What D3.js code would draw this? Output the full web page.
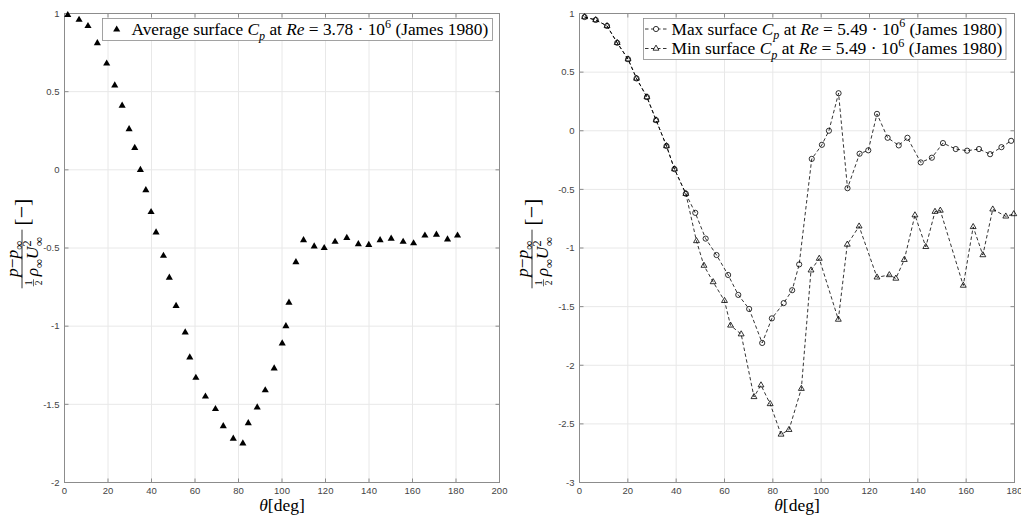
<!DOCTYPE html>
<html>
<head>
<meta charset="utf-8">
<script src="https://cdn.jsdelivr.net/npm/d3@7"></script>
<style>
body { margin: 0; background: #fff; }
svg { display: block; }
</style>
</head>
<body>
<svg id="chart" width="1021" height="516"></svg>
<script>
// surface pressure coefficient, James (1980)
var avgTheta = [1.5, 6.7, 10.8, 15.1, 19.4, 23.1, 26.5, 29.7, 32.3, 34.9, 37.4, 39.8, 42.1, 45.5,
    48.2, 51.3, 55.5, 57.6, 60.4, 64.8, 69.4, 73, 77.6, 82, 84.5, 88.6, 92.3, 96.4, 100.1, 101.8,
    103.2, 106.4, 109.9, 114.8, 119.4, 124.4, 129.8, 135.1, 139.9, 145.1, 150.2, 155.7, 160.5,
    165.7, 171, 176.1, 180.7];
var avgCp = [0.99, 0.96, 0.92, 0.81, 0.68, 0.54, 0.41, 0.26, 0.14, 0.0, -0.13, -0.27, -0.40, -0.55,
    -0.69, -0.87, -1.04, -1.20, -1.33, -1.45, -1.53, -1.64, -1.72, -1.75, -1.62, -1.52, -1.41, -1.27,
    -1.11, -1.00, -0.85, -0.59, -0.45, -0.49, -0.50, -0.46, -0.435, -0.475, -0.48, -0.45, -0.44,
    -0.46, -0.47, -0.42, -0.415, -0.445, -0.42];

var maxTheta = [2.1, 6.7, 11.4, 15.6, 20.1, 23.6, 27.9, 31.7, 36.0, 39.3, 44.0, 47.9, 52.2, 56.7,
    61.5, 65.7, 70.2, 75.6, 79.6, 84.5, 88, 90.9, 96.1, 100.3, 103.2, 107.2, 110.9, 115.9, 119.5,
    123.1, 127.5, 132.1, 135.7, 141.2, 145.8, 150.4, 155.7, 160.4, 165.3, 169.9, 174.6, 178.6];
var maxCp = [0.97, 0.945, 0.894, 0.75, 0.61, 0.446, 0.287, 0.09, -0.13, -0.327, -0.537, -0.70,
    -0.92, -1.06, -1.23, -1.40, -1.52, -1.81, -1.60, -1.47, -1.36, -1.14, -0.24, -0.12, 0.0, 0.32,
    -0.49, -0.196, -0.167, 0.144, -0.06, -0.125, -0.06, -0.27, -0.23, -0.105, -0.156, -0.17,
    -0.156, -0.20, -0.14, -0.086];

var minTheta = [2.1, 6.7, 11.4, 15.6, 20.1, 23.6, 27.9, 31.7, 36.0, 39.3, 44.0, 48.4, 51.5, 55.3,
    60, 62.5, 66.9, 72.2, 75.1, 78.9, 83.4, 86.7, 91.8, 95.8, 99.2, 107.1, 110.8, 115.7, 123.1,
    128.2, 130.9, 134.4, 138.8, 143.3, 147.1, 149.3, 158.8, 162.9, 166.9, 171, 176.4, 179.7];
var minCp = [0.97, 0.945, 0.894, 0.75, 0.61, 0.446, 0.287, 0.09, -0.13, -0.327, -0.537, -0.94,
    -1.15, -1.29, -1.45, -1.66, -1.735, -2.27, -2.17, -2.33, -2.59, -2.55, -2.20, -1.19, -1.09,
    -1.61, -0.97, -0.815, -1.25, -1.23, -1.26, -1.10, -0.72, -0.99, -0.69, -0.68, -1.32, -0.82,
    -1.06, -0.67, -0.73, -0.71];

var leftXTicks = [0, 20, 40, 60, 80, 100, 120, 140, 160, 180, 200];
var leftYTicks = [1, 0.5, 0, -0.5, -1, -1.5, -2];
var rightXTicks = [0, 20, 40, 60, 80, 100, 120, 140, 160, 180];
var rightYTicks = [1, 0.5, 0, -0.5, -1, -1.5, -2, -2.5, -3];

var serif = "'Liberation Serif', 'DejaVu Serif', serif";
var sans = "'Liberation Sans', Arial, sans-serif";

var svg = d3.select("#chart");

var xL = d3.scaleLinear().domain([0, 200]).range([64.5, 499.5]);
var yL = d3.scaleLinear().domain([-2, 1]).range([482.5, 13.5]);
var xR = d3.scaleLinear().domain([0, 180]).range([579.5, 1014.5]);
var yR = d3.scaleLinear().domain([-3, 1]).range([482.5, 13.5]);

function drawAxes(x, y, xTicks, yTicks) {
    var g = svg.append("g");
    var x0 = x.range()[0], x1 = x.range()[1];
    var y0 = y.range()[0], y1 = y.range()[1];
    // grid
    xTicks.forEach(function (t) {
        g.append("line").attr("x1", x(t)).attr("x2", x(t)).attr("y1", y0).attr("y2", y1)
            .style("stroke", "#e8e8e8").style("stroke-width", 1);
    });
    yTicks.forEach(function (t) {
        g.append("line").attr("x1", x0).attr("x2", x1).attr("y1", y(t)).attr("y2", y(t))
            .style("stroke", "#e8e8e8").style("stroke-width", 1);
    });
    // box
    g.append("rect").attr("x", x0).attr("y", y1).attr("width", x1 - x0).attr("height", y0 - y1)
        .style("fill", "none").style("stroke", "#8c8c8c").style("stroke-width", 1);
    // inward ticks all round
    xTicks.forEach(function (t) {
        g.append("line").attr("x1", x(t)).attr("x2", x(t)).attr("y1", y0).attr("y2", y0 - 4)
            .style("stroke", "#8c8c8c");
        g.append("line").attr("x1", x(t)).attr("x2", x(t)).attr("y1", y1).attr("y2", y1 + 4)
            .style("stroke", "#8c8c8c");
        g.append("text").attr("x", x(t)).attr("y", y0 + 11)
            .attr("text-anchor", "middle").attr("font-family", sans).attr("font-size", 9.5)
            .attr("fill", "#444").text(t);
    });
    yTicks.forEach(function (t) {
        g.append("line").attr("x1", x0).attr("x2", x0 + 4).attr("y1", y(t)).attr("y2", y(t))
            .style("stroke", "#8c8c8c");
        g.append("line").attr("x1", x1).attr("x2", x1 - 4).attr("y1", y(t)).attr("y2", y(t))
            .style("stroke", "#8c8c8c");
        g.append("text").attr("x", x0 - 5).attr("y", y(t)).attr("dy", "0.35em")
            .attr("text-anchor", "end").attr("font-family", sans).attr("font-size", 9.5)
            .attr("fill", "#444").text(t);
    });
}

// text with italic / sub / sup pieces
function rich(parent, parts, size) {
    var t = parent.append("text").attr("font-family", serif).attr("font-size", size).attr("fill", "#000");
    var shift = 0;
    parts.forEach(function (p) {
        var target = p.sub ? size * 0.28 : (p.sup ? -size * 0.42 : 0);
        var ts = t.append("tspan").attr("dy", target - shift).text(p.t);
        if (p.i) ts.attr("font-style", "italic");
        if (p.sub || p.sup) ts.attr("font-size", size * 0.7);
        if (p.dx) ts.attr("dx", p.dx);
        shift = target;
    });
    return t;
}

function fitRich(parent, parts, width, size) {
    var t = rich(parent, parts, size);
    var w = t.node().getComputedTextLength();
    t.remove();
    return rich(parent, parts, size * width / w);
}

function xLabel(cx) {
    var t = rich(svg, [{t: "θ", i: 1}, {t: "[deg]"}], 17.5);
    t.attr("x", cx).attr("y", 510.5).attr("text-anchor", "middle");
}

function yLabel(cx, cy) {
    var g = svg.append("g").attr("transform", "translate(" + cx + "," + cy + ") rotate(-90)");
    var c = -11;
    rich(g, [{t: "p", i: 1}, {t: "−"}, {t: "p", i: 1}, {t: "∞", sub: 1}], 17.5)
        .attr("x", c).attr("y", -4).attr("text-anchor", "middle");
    var den = rich(g, [{t: "ρ", i: 1}, {t: "∞", sub: 1}, {t: "U", i: 1}, {t: "2", sup: 1},
        {t: "∞", sub: 1, dx: -5.5}], 17.5);
    var w = den.node().getComputedTextLength();
    var W = w + 10;
    var s = c - W / 2;
    den.attr("x", s + 10).attr("y", 16);
    g.append("text").attr("x", s + 3.5).attr("y", 10).attr("text-anchor", "middle")
        .attr("font-family", serif).attr("font-size", 9.5).text("1");
    g.append("text").attr("x", s + 3.5).attr("y", 19.5).attr("text-anchor", "middle")
        .attr("font-family", serif).attr("font-size", 9.5).text("2");
    g.append("line").attr("x1", s).attr("x2", s + 7).attr("y1", 11.5).attr("y2", 11.5)
        .style("stroke", "#000").style("stroke-width", 0.6);
    g.append("line").attr("x1", s - 2).attr("x2", s + W + 2).attr("y1", 0).attr("y2", 0)
        .style("stroke", "#000").style("stroke-width", 0.8);
    g.append("text").attr("x", s + W + 6).attr("y", 6.5).attr("font-family", serif).attr("font-size", 22)
        .text("[−]");
}

var triBig = d3.symbol().type(d3.symbolTriangle).size(22);
var triSmall = d3.symbol().type(d3.symbolTriangle).size(15);

// ---- left panel
drawAxes(xL, yL, leftXTicks, leftYTicks);
svg.append("g").selectAll("path").data(avgTheta).enter().append("path")
    .attr("d", triBig)
    .attr("transform", function (d, i) { return "translate(" + xL(d) + "," + yL(avgCp[i]) + ")"; })
    .style("fill", "#000");

svg.append("rect").attr("x", 102.5).attr("y", 18.5).attr("width", 390).attr("height", 22)
    .style("fill", "#fff").style("stroke", "#8c8c8c").style("stroke-width", 0.8);
svg.append("path").attr("d", triBig).attr("transform", "translate(116.7,29.5)").style("fill", "#000");
fitRich(svg, [{t: "Average surface "}, {t: "C", i: 1}, {t: "p", i: 1, sub: 1}, {t: " at "},
    {t: "Re", i: 1}, {t: " = 3.78 · 10"}, {t: "6", sup: 1}, {t: " (James 1980)"}], 357, 17)
    .attr("x", 131.5).attr("y", 35);

xLabel(282);
yLabel(22, 248);

// ---- right panel
drawAxes(xR, yR, rightXTicks, rightYTicks);

var lineMax = d3.line().x(function (d, i) { return xR(d); }).y(function (d, i) { return yR(maxCp[i]); });
var lineMin = d3.line().x(function (d, i) { return xR(d); }).y(function (d, i) { return yR(minCp[i]); });

svg.append("path").attr("d", lineMax(maxTheta))
    .style("fill", "none").style("stroke", "#000").style("stroke-width", 0.8)
    .style("stroke-dasharray", "3.5,2.5");
svg.append("path").attr("d", lineMin(minTheta))
    .style("fill", "none").style("stroke", "#000").style("stroke-width", 0.8)
    .style("stroke-dasharray", "3.5,2.5");

svg.append("g").selectAll("circle").data(maxTheta).enter().append("circle")
    .attr("cx", function (d) { return xR(d); })
    .attr("cy", function (d, i) { return yR(maxCp[i]); })
    .attr("r", 2.6)
    .style("fill", "none").style("stroke", "#000").style("stroke-width", 0.8);
svg.append("g").selectAll("path").data(minTheta).enter().append("path")
    .attr("d", triSmall)
    .attr("transform", function (d, i) { return "translate(" + xR(d) + "," + yR(minCp[i]) + ")"; })
    .style("fill", "none").style("stroke", "#000").style("stroke-width", 0.8);

svg.append("rect").attr("x", 643.5).attr("y", 18.5).attr("width", 362.5).attr("height", 41)
    .style("fill", "#fff").style("stroke", "#8c8c8c").style("stroke-width", 0.8);
[29, 48.5].forEach(function (ly, k) {
    svg.append("line").attr("x1", 645).attr("x2", 667).attr("y1", ly).attr("y2", ly)
        .style("stroke", "#000").style("stroke-width", 0.8).style("stroke-dasharray", "3.5,2.5");
    if (k == 0) {
        svg.append("circle").attr("cx", 656).attr("cy", ly).attr("r", 2.6)
            .style("fill", "#fff").style("stroke", "#000").style("stroke-width", 0.8);
    } else {
        svg.append("path").attr("d", triSmall).attr("transform", "translate(656," + ly + ")")
            .style("fill", "#fff").style("stroke", "#000").style("stroke-width", 0.8);
    }
});
fitRich(svg, [{t: "Max surface "}, {t: "C", i: 1}, {t: "p", i: 1, sub: 1}, {t: " at "},
    {t: "Re", i: 1}, {t: " = 5.49 · 10"}, {t: "6", sup: 1}, {t: " (James 1980)"}], 331, 17)
    .attr("x", 671.5).attr("y", 34.5);
fitRich(svg, [{t: "Min surface "}, {t: "C", i: 1}, {t: "p", i: 1, sub: 1}, {t: " at "},
    {t: "Re", i: 1}, {t: " = 5.49 · 10"}, {t: "6", sup: 1}, {t: " (James 1980)"}], 331, 17)
    .attr("x", 671.5).attr("y", 54);

xLabel(797);
yLabel(532, 248);
</script>
</body>
</html>
